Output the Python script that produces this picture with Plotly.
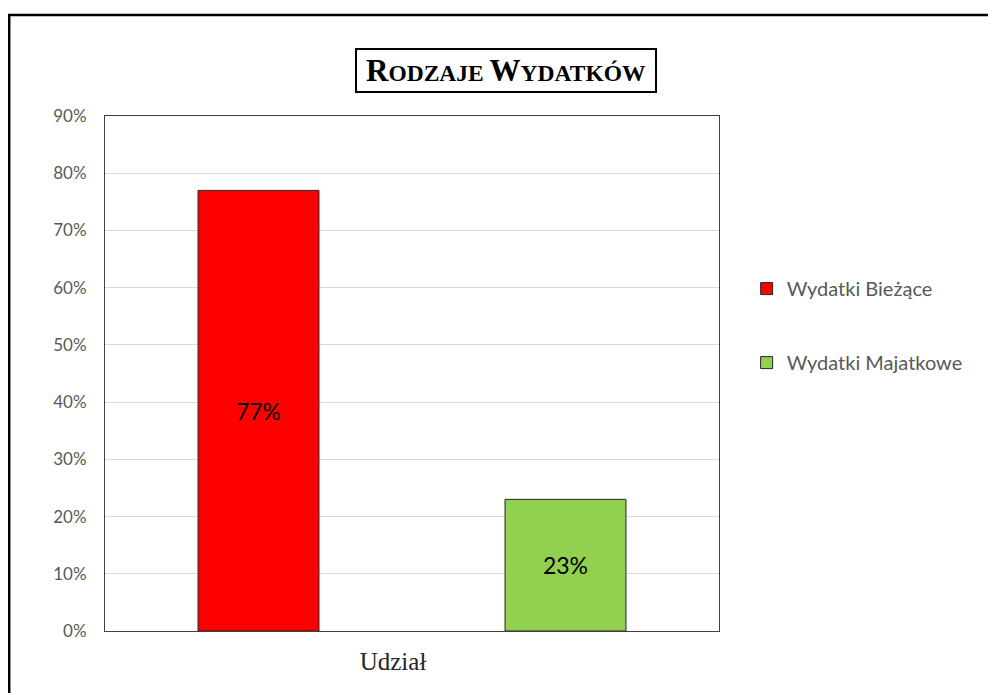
import plotly.graph_objects as go

categories = ["Udział"]
series_names = ["Wydatki Bieżące", "Wydatki Majatkowe"]
series_values = [[0.77], [0.23]]
series_colors = ["#ff0000", "#92d050"]
y_ticks = [0, 0.1, 0.2, 0.3, 0.4, 0.5, 0.6, 0.7, 0.8, 0.9]

fig = go.Figure()
for name, vals, col in zip(series_names, series_values, series_colors):
    fig.add_trace(go.Bar(
        x=categories, y=vals, name=name, legendgroup=name,
        marker=dict(color=col, line=dict(color="#262626", width=1)),
        text=[f"{v*100:.0f}%" for v in vals],
        textposition="inside", insidetextanchor="middle",
        textfont=dict(family="Lato, Open Sans, sans-serif", size=23, color="#000000"),
        textangle=0,
    ))

fig.update_layout(
    width=988, height=685,
    margin=dict(l=97, r=277, t=108, b=62),
    paper_bgcolor="white", plot_bgcolor="white",
    barmode="group", bargap=0, bargroupgap=0.606,
    showlegend=True,
    legend=dict(x=1.045, xanchor="left", y=0.593, yanchor="middle",
                font=dict(family="Lato, Open Sans, sans-serif", size=20, color="#595959"),
                tracegroupgap=45, itemwidth=30),
    font=dict(family="Lato, Open Sans, sans-serif"),
)
fig.update_xaxes(
    showline=True, linecolor="#404040", linewidth=1, mirror=True,
    tickfont=dict(family="Liberation Serif, Times New Roman, serif", size=25, color="#262626"),
    ticks="", ticklabelshift=-19, ticklabelstandoff=8,
)
fig.update_yaxes(
    range=[0, 0.9], tickvals=y_ticks, tickformat=".0%",
    showgrid=True, gridcolor="#d9d9d9", gridwidth=1,
    showline=True, linecolor="#404040", linewidth=1, mirror=True,
    tickfont=dict(family="Lato, Open Sans, sans-serif", size=17, color="#595959"),
    ticks="", ticklabelstandoff=14, zeroline=False,
)

# outer chart border
fig.add_shape(type="rect", xref="paper", yref="paper",
              x0=-0.156, x1=1.5, y0=-0.3, y1=1.196,
              line=dict(color="black", width=2.5), layer="below")

# boxed title
fig.add_annotation(
    xref="paper", yref="paper", x=0.653, y=1.088, showarrow=False,
    text="<b><span style='font-size:31px'>R</span>ODZAJE <span style='font-size:31px'>W</span>YDATKÓW</b>",
    font=dict(family="Liberation Serif, Times New Roman, serif", size=23.5, color="black"),
    bordercolor="black", borderwidth=2, width=296, height=39, bgcolor="white",
    xanchor="center", yanchor="middle",
)

fig.write_html("out.html")
